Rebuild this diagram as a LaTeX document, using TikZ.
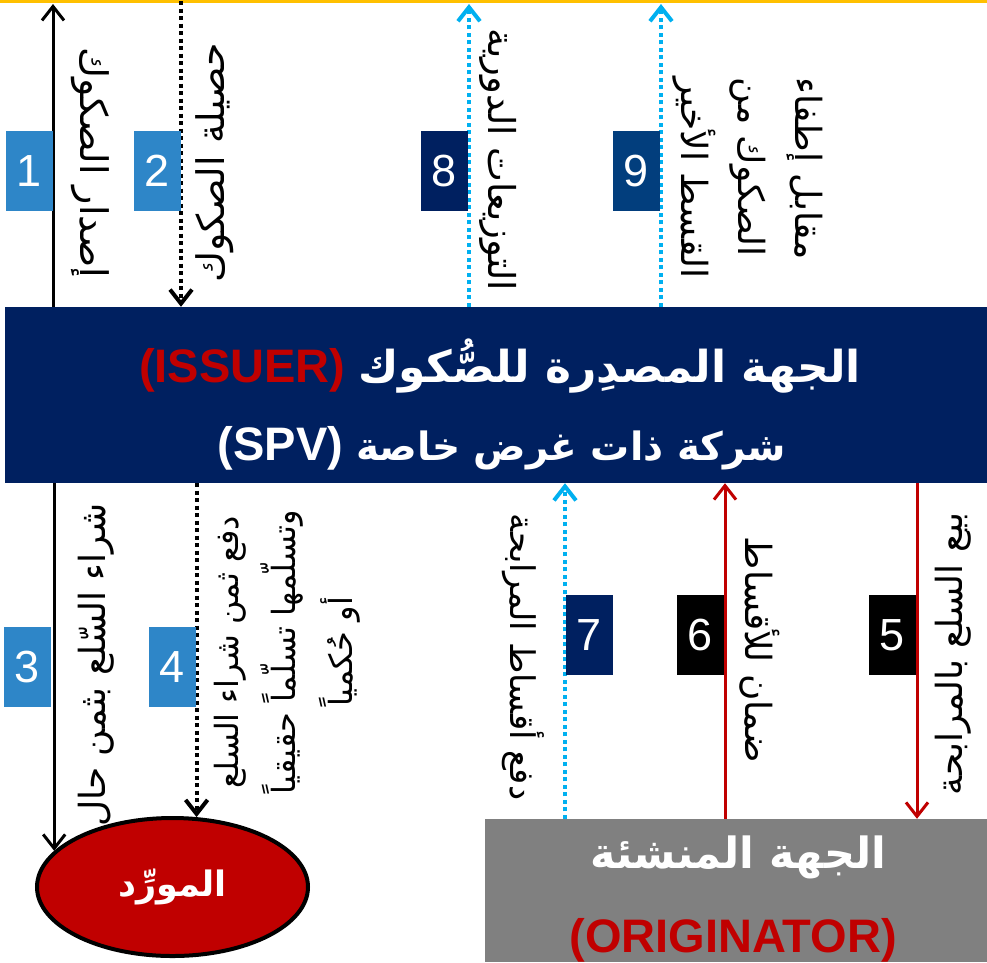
\documentclass[tikz,border=0pt]{standalone}
\usepackage{fontspec}
\setmainfont{Liberation Sans}
\newfontfamily\arabicfont[Script=Arabic]{DejaVu Sans}
\TeXXeTstate=1
\usetikzlibrary{arrows.meta,shapes.geometric}

\definecolor{spvblue}{RGB}{0,32,96}
\definecolor{stepblue}{RGB}{46,134,200}
\definecolor{ninthblue}{RGB}{2,62,125}
\definecolor{linkblue}{RGB}{0,176,240}
\definecolor{darkred}{RGB}{192,0,0}
\definecolor{origgray}{RGB}{128,128,128}
\definecolor{topline}{RGB}{255,192,0}

\tikzset{
  numbox/.style={minimum width=47pt, minimum height=80pt, inner sep=0pt, text=white,
    font=\fontsize{45}{45}\selectfont},
  vlab/.style={inner sep=0pt, font=\arabicfont\fontsize{#1}{57}\selectfont},
  vlab/.default=36,
  barb/.style={-{Straight Barb[length=14pt,width=22pt]}},
  blackline/.style={barb, line width=3pt},
  redline/.style={barb, line width=3pt, draw=darkred},
  blackdots/.style={barb, line width=4pt, dash pattern=on 4pt off 3.5pt},
  bluedots/.style={barb, line width=4pt, dash pattern=on 4pt off 3.5pt, draw=linkblue},
  bigtitle/.style={text=white, inner sep=0pt, font=\bfseries\fontsize{47}{47}\selectfont},
}

\begin{document}
\begin{tikzpicture}[x=1pt,y=-1pt]
\useasboundingbox (0,0) rectangle (987,962);

\draw[topline, line width=3pt] (0,1.5) -- (987,1.5);

% main boxes
\node[fill=spvblue, minimum width=982pt, minimum height=176pt, inner sep=0pt] (spv) at (496,395) {};
\node[fill=origgray, minimum width=502pt, minimum height=143pt, inner sep=0pt] (orig) at (736,890.5) {};
\node[ellipse, draw, line width=4pt, fill=darkred, minimum width=271pt, minimum height=138pt,
  inner sep=0pt, text=white, font=\arabicfont\bfseries\fontsize{35}{35}\selectfont]
  (supplier) at (172.5,887) {\beginR المورِّد\endR};

\node[bigtitle, anchor=base] (issuer) at (500,382)
  {{\color{darkred}(ISSUER)} {\arabicfont\fontsize{44}{44}\selectfont\beginR الجهة المصدِرة للصُّكوك\endR}};
\node[bigtitle, anchor=base] (spvname) at (502,460)
  {(SPV) {\arabicfont\fontsize{39}{39}\selectfont\beginR شركة ذات غرض خاصة\endR}};
\node[bigtitle, anchor=base, font=\arabicfont\bfseries\fontsize{43}{43}\selectfont] (origname) at (738,868)
  {\beginR الجهة المنشئة\endR};
\node[bigtitle, anchor=base, text=darkred] (origtag) at (733,952) {(ORIGINATOR)};

% free ends and line positions
\coordinate (top1) at (53,4);
\coordinate (top2) at (181,1);
\coordinate (top8) at (469,4);
\coordinate (top9) at (661,4);
\coordinate (x7) at (565,0);
\coordinate (x6) at (725,0);
\coordinate (x5) at (917,0);

% flows
\draw[blackline] (spv.north -| top1) -- (top1);
\draw[blackdots] (top2) -- (spv.north -| top2);
\draw[bluedots] (spv.north -| top8) -- (top8);
\draw[bluedots] (spv.north -| top9) -- (top9);
\draw[blackline] (spv.south -| supplier.163) -- (supplier.163);
\draw[blackdots] (spv.south -| supplier.71) -- (supplier.71);
\draw[bluedots] (orig.north -| x7) -- (spv.south -| x7);
\draw[redline] (orig.north -| x6) -- (spv.south -| x6);
\draw[redline] (spv.south -| x5) -- (orig.north -| x5);

% step numbers
\node[numbox, fill=stepblue] (n1) at (29,171) {1};
\node[numbox, fill=stepblue] (n2) at (157,171) {2};
\node[numbox, fill=stepblue] (n3) at (27,667) {3};
\node[numbox, fill=stepblue] (n4) at (172.5,667) {4};
\node[numbox, fill=black] (n5) at (892,635) {5};
\node[numbox, fill=black] (n6) at (700,635) {6};
\node[numbox, fill=spvblue] (n7) at (589,635) {7};
\node[numbox, fill=spvblue] (n8) at (444.5,171) {8};
\node[numbox, fill=ninthblue] (n9) at (636.5,171) {9};

% labels along the flows
\node[vlab=38, rotate=-90] (t1) at (90,163) {\beginR إصدار الصكوك\endR};
\node[vlab=38, rotate=90] (t2) at (215,163) {\beginR حصيلة الصكوك\endR};
\node[vlab, rotate=90] (t3) at (96,665) {\beginR شراء السّلع بثمن حال\endR};
\node[vlab=32, rotate=90, align=center] (t4) at (287,652)
  {\beginR دفع ثمن شراء السلع\endR\\ \beginR وتسلّمها تسلّماً حقيقياً\endR\\ \beginR أو حُكمياً\endR};
\node[vlab, rotate=90] (t5) at (953,654) {\beginR بيع السلع بالمرابحة\endR};
\node[vlab, rotate=-90] (t6) at (760,650) {\beginR ضمان للأقساط\endR};
\node[vlab=34, rotate=-90] (t7) at (523,657) {\beginR دفع أقساط المرابحة\endR};
\node[vlab=37, rotate=-90] (t8) at (498,160) {\beginR التوزيعات الدورية\endR};
\node[vlab, rotate=-90, align=left] (t9) at (748,178) 
  {\beginR مقابل إطفاء\endR\\ \beginR الصكوك من\endR\\ \beginR القسط الأخير\endR};
\end{tikzpicture}
\end{document}
